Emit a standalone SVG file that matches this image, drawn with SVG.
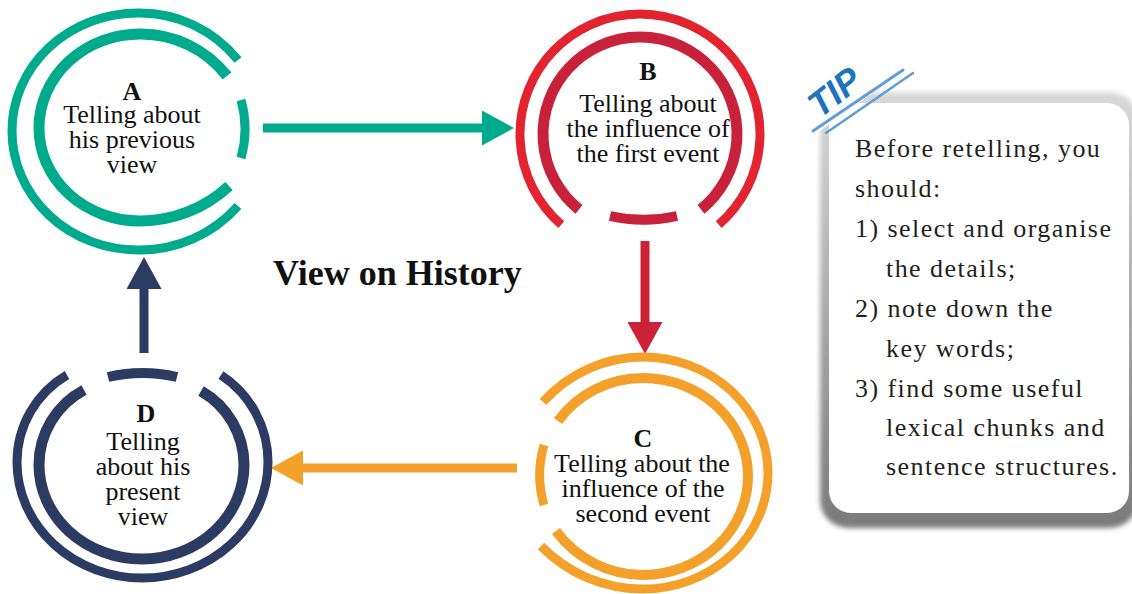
<svg xmlns="http://www.w3.org/2000/svg" width="1132" height="594" viewBox="0 0 1132 594">
  <style>
    .ring { fill: none; stroke-linecap: butt; }
    .lbl { font-family: "Liberation Serif", "Times New Roman", serif; font-size: 26px; fill: #111; text-anchor: middle; }
    .key { font-weight: bold; }
    .tip { font-family: "Liberation Serif", "Times New Roman", serif; font-size: 26px; letter-spacing: 1.45px; fill: #231f20; }
    .teal { stroke: #00aa8d; }
    .red { stroke: #e1242f; }
    .crimson { stroke: #c8213b; }
    .orange { stroke: #f4a12b; }
    .navy { stroke: #2b3b61; }
  </style>
  <defs>
    <marker id="head-teal" viewBox="0 0 32 35" refX="0" refY="17.5" markerWidth="32" markerHeight="35" markerUnits="userSpaceOnUse" orient="auto">
      <path d="M0,0 L32,17.5 L0,35 Z" fill="#00aa8d"/>
    </marker>
    <marker id="head-red" viewBox="0 0 32 35" refX="0" refY="17.5" markerWidth="32" markerHeight="35" markerUnits="userSpaceOnUse" orient="auto">
      <path d="M0,0 L32,17.5 L0,35 Z" fill="#cc2237"/>
    </marker>
    <marker id="head-orange" viewBox="0 0 32 35" refX="0" refY="17.5" markerWidth="32" markerHeight="35" markerUnits="userSpaceOnUse" orient="auto">
      <path d="M0,0 L32,17.5 L0,35 Z" fill="#f4a12b"/>
    </marker>
    <marker id="head-navy" viewBox="0 0 32 35" refX="0" refY="17.5" markerWidth="32" markerHeight="35" markerUnits="userSpaceOnUse" orient="auto">
      <path d="M0,0 L32,17.5 L0,35 Z" fill="#2b3b61"/>
    </marker>
    <linearGradient id="shade" x1="0" y1="0" x2="0" y2="1">
      <stop offset="0" stop-color="#dadada"/>
      <stop offset="1" stop-color="#7a7a7a"/>
    </linearGradient>
    <filter id="soft" x="-10%" y="-10%" width="120%" height="120%">
      <feGaussianBlur stdDeviation="2.5"/>
    </filter>
  </defs>

  <rect width="1132" height="594" fill="#ffffff"/>

  <!-- connectors -->
  <g id="connectors" stroke-width="9" fill="none">
    <line x1="263" y1="128" x2="482" y2="128" stroke="#00aa8d" marker-end="url(#head-teal)"/>
    <line x1="645" y1="241" x2="645" y2="322" stroke="#cc2237" marker-end="url(#head-red)"/>
    <line x1="517" y1="468" x2="303" y2="468" stroke="#f4a12b" marker-end="url(#head-orange)"/>
    <line x1="144" y1="353" x2="144" y2="289" stroke="#2b3b61" marker-end="url(#head-navy)"/>
  </g>

  <!-- A: gap opens to the right -->
  <g id="node-a">
    <path class="ring teal" stroke-width="9" d="M 238 60 A 126 126 0 0 0 138 13 A 126 118 0 0 0 12 131 A 126 119 0 0 0 138 250 A 131 131 0 0 0 238 206"/>
    <path class="ring teal" stroke-width="11" d="M 227 76 A 109 109 0 0 0 140 34 A 101 94 0 0 0 39 128 A 101 93 0 0 0 140 221 A 131 131 0 0 0 229 186"/>
    <path class="ring teal" stroke-width="9" d="M 241 100 A 107 107 0 0 1 241 158"/>
    <text class="lbl" x="132" y="100"><tspan class="key">A</tspan><tspan x="132" dy="23">Telling about</tspan><tspan x="132" dy="25">his previous</tspan><tspan x="132" dy="25">view</tspan></text>
  </g>

  <!-- B: gap opens downward -->
  <g id="node-b">
    <path class="ring red" stroke-width="9" d="M 561.3 224.6 A 120 120 0 1 1 718.7 224.6"/>
    <path class="ring crimson" stroke-width="11" d="M 579 209.4 A 97 97 0 1 1 701 209.4"/>
    <path class="ring crimson" stroke-width="10" d="M 610 216 A 150 150 0 0 0 677 216"/>
    <text class="lbl" x="648" y="80"><tspan class="key">B</tspan><tspan x="648" dy="32">Telling about</tspan><tspan x="648" dy="25">the influence of</tspan><tspan x="648" dy="25">the first event</tspan></text>
  </g>

  <!-- C: gap opens to the left -->
  <g id="node-c">
    <path class="ring orange" stroke-width="9" d="M 543 402 A 134 134 0 0 1 643 357 A 125 116 0 0 1 768 473 A 125 116 0 0 1 643 589 A 142 142 0 0 1 541 546"/>
    <path class="ring orange" stroke-width="10" d="M 558 421 A 105 105 0 0 1 643 378 A 105 98 0 0 1 748 476 A 105 99 0 0 1 643 575 A 108 108 0 0 1 556 531"/>
    <path class="ring orange" stroke-width="9" d="M 544 445 A 107 107 0 0 0 544 505"/>
    <text class="lbl" x="643" y="447"><tspan class="key">C</tspan><tspan x="642" dy="25">Telling about the</tspan><tspan x="643" dy="25">influence of the</tspan><tspan x="643" dy="25">second event</tspan></text>
  </g>

  <!-- D: gap opens upward -->
  <g id="node-d">
    <path class="ring navy" stroke-width="9" d="M 67 375 A 101 101 0 0 0 17 462 A 125 116 0 0 0 142 578 A 126 116 0 0 0 268 462 A 104 104 0 0 0 221 375"/>
    <path class="ring navy" stroke-width="11" d="M 84 390 A 85 85 0 0 0 39 465 A 103 94 0 0 0 142 559 A 102 94 0 0 0 244 465 A 85 85 0 0 0 201 391"/>
    <path class="ring navy" stroke-width="10" d="M 108 377 A 150 150 0 0 1 177 377"/>
    <text class="lbl" x="146" y="422"><tspan class="key">D</tspan><tspan x="143" dy="28">Telling</tspan><tspan x="143" dy="25">about his</tspan><tspan x="143" dy="25">present</tspan><tspan x="143" dy="25">view</tspan></text>
  </g>

  <!-- centre title -->
  <g id="title">
    <text x="273" y="285" font-family="Liberation Serif, Times New Roman, serif" font-size="36" font-weight="bold" fill="#111">View on History</text>
  </g>

  <!-- tip card -->
  <g id="tip-card">
    <rect x="820" y="92" width="318" height="436" rx="28" fill="url(#shade)" filter="url(#soft)"/>
    <rect x="829" y="103" width="300" height="410" rx="22" fill="#ffffff"/>
    <polygon points="810,138 810,82 888,82" fill="#ffffff"/>
    <line x1="813" y1="131" x2="903" y2="70" stroke="#5f9ed6" stroke-width="3" stroke-linecap="round"/>
    <line x1="826" y1="133" x2="913" y2="73" stroke="#5f9ed6" stroke-width="2.5" stroke-linecap="round"/>
    <text transform="translate(820,119) rotate(-38)" font-family="Liberation Sans, Arial, sans-serif" font-size="36" font-style="italic" font-weight="bold" fill="#1d74bd">TIP</text>
    <text class="tip" x="855" y="157">Before retelling, you</text>
    <text class="tip" x="855" y="197">should:</text>
    <text class="tip" x="855" y="237">1) select and organise</text>
    <text class="tip" x="886" y="277">the details;</text>
    <text class="tip" x="855" y="317">2) note down the</text>
    <text class="tip" x="886" y="357">key words;</text>
    <text class="tip" x="855" y="397">3) find some useful</text>
    <text class="tip" x="886" y="436">lexical chunks and</text>
    <text class="tip" x="886" y="475">sentence structures.</text>
  </g>
</svg>
